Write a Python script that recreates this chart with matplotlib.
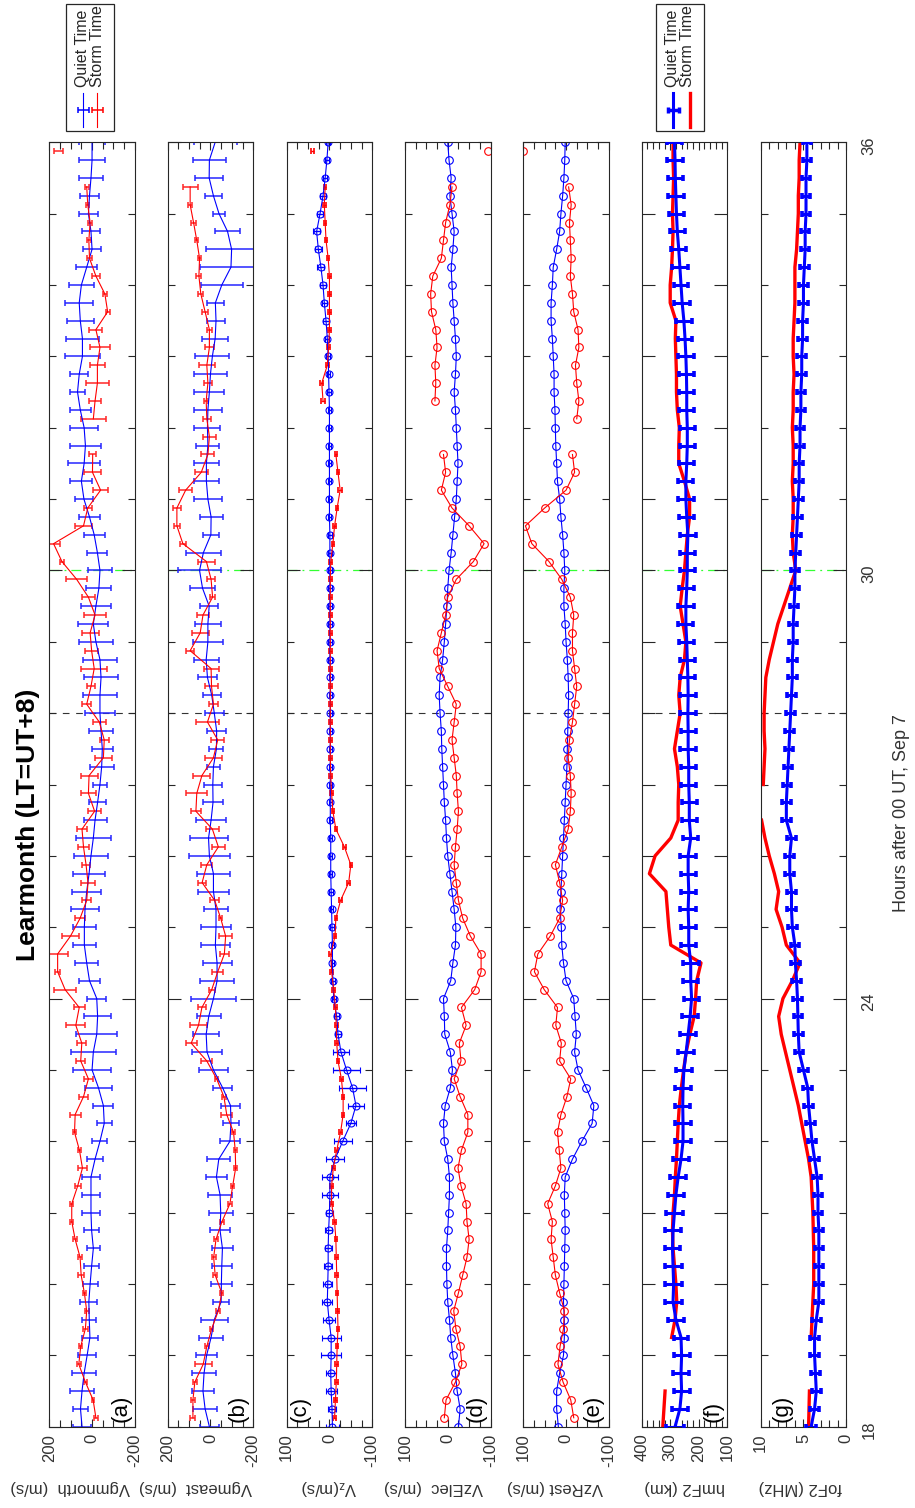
import numpy as np
import matplotlib
matplotlib.use("Agg")
import matplotlib.pyplot as plt
from matplotlib.ticker import MultipleLocator, FixedLocator
from matplotlib.patches import Rectangle

plt.rcParams['font.family'] = ['Liberation Sans', 'DejaVu Sans']
plt.rcParams['mathtext.fontset'] = 'custom'
plt.rcParams['mathtext.rm'] = 'Liberation Sans'
plt.rcParams['mathtext.it'] = 'Liberation Sans'
plt.rcParams['axes.unicode_minus'] = False

# time grids (hours after 00 UT, Sep 7)
t_quiet = np.arange(18, 36.001, 0.25)
t_storm = np.arange(18.125, 35.9, 0.25)
nan = np.nan

# (a) Vgmnorth
a_quiet = [47, 54, 47, 37, 23, 10, 13, 15, 9, 2,
           -6, 2, 5, 5, 5, -14, -37, -57, -53, -30,
           0, -6, -22, -26, -22, 12, 25, 36, 36, 33,
           25, 14, 5, -6, -14, -26, -37, -45, -48, -42,
           -37, -37, -42, -37, -18, -6, -18, -32, -37, -25,
           -10, 12, 38, 50, 37, 31, 37, 55, 68, 60,
           45, 45, 55, 60, 50, 25, 0, 5, 17, 12,
           5, 0, 0]
a_quiet_err = [44, 37, 58, 57, 43, 36, 33, 40, 35, 36,
               29, 35, 40, 40, 43, 37, 35, 35, 47, 63,
               89, 105, 97, 64, 45, 50, 54, 55, 55, 66,
               67, 75, 81, 82, 54, 39, 31, 56, 50, 56,
               71, 81, 81, 81, 79, 70, 70, 58, 54, 47,
               50, 50, 44, 52, 74, 72, 67, 49, 36, 41,
               80, 78, 64, 66, 60, 50, 41, 43, 46, 44,
               58, 62, 60]
a_storm = [-18, -5, 31, 62, 53, 31, 25, 36, 51, 56,
           79, 95, 95, 67, 45, 59, 82, 79, 40, 17,
           53, 48, 76, 60, 126, 161, 161, 101, 56, 25,
           19, 28, 40, 47, -12, 17, 14, -53, -57, -34,
           25, 5, -10, 2, 9, -14, 17, 72, 141, 180,
           40, 20, -40, -2, -3, nan, -6, -14, -25, -25,
           -37, -18, -73, -60, -18, 12, 15, 9, 20, 25,
           nan, 157]
a_storm_err = [8, 6, 8, 10, 8, 12, 10, 8, 15, 10,
               8, 8, 8, 15, 20, 8, 8, 25, 20, 22,
               22, 22, 45, 25, 50, 12, 50, 40, 25, 20,
               35, 20, 25, 25, 30, 35, 40, 40, 20, 30,
               20, 20, 60, 30, 40, 50, 30, 50, 10, 30,
               40, 20, 35, 40, 15, nan, 60, 30, 55, 35,
               45, 30, 10, 10, 20, 10, 10, 10, 8, 10,
               nan, 20]

# (b) Vgmeast
b_quiet = [5, 25, 35, 30, 18, -3, -18, -50, -51, -53,
           -56, -45, -48, -45, -28, -39, -91, -96, -94, -57,
           -14, 16, 20, 8, -14, -31, -31, -23, -26, -26,
           -14, -14, 5, 9, -3, -12, -11, -14, -28, -29,
           -18, -6, 14, 20, 12, 12, 6, 37, 51, 33,
           -2, -3, 12, 19, 19, 12, 14, 12, 5, 0,
           -9, -22, -26, -23, -53, -96, -99, -80, -40, -14,
           6, 5, -22]
b_quiet_err = [44, 56, 52, 54, 48, 58, 64, 39, 48, 47,
               51, 47, 57, 58, 48, 53, 47, 39, 43, 43,
               66, 72, 62, 56, 105, 79, 68, 68, 72, 57,
               74, 78, 96, 89, 70, 48, 41, 31, 33, 43,
               44, 42, 44, 58, 70, 60, 43, 60, 99, 81,
               37, 54, 66, 57, 58, 54, 61, 66, 70, 76,
               80, 62, 44, 40, 97, 145, 122, 57, 27, 39,
               65, 78, 100]
b_storm = [82, 82, 73, 34, 17, -6, -37, -53, -22, -15,
           -26, -54, -91, -104, -118, -116, -108, -76, -63, -29,
           17, 90, 56, 40, -6, -34, -65, -71, -48, -20,
           39, 17, -37, -9, 68, 64, 40, -14, -34, 14,
           -14, -5, -3, 95, 48, 35, -10, -3, 19, 129,
           157, 157, 116, 43, 12, 5, 17, 20, 12, 17,
           5, 5, 25, 45, 54, 51, 64, 79, 95, 95,
           nan, nan]
b_storm_err = [12, 10, 8, 40, 8, 8, 10, 8, 8, 10,
               8, 10, 10, 8, 8, 8, 8, 25, 10, 8,
               25, 25, 40, 20, 15, 25, 20, 30, 8, 20,
               20, 25, 30, 30, 25, 50, 40, 40, 30, 55,
               20, 30, 35, 20, 40, 30, 10, 20, 38, 15,
               15, 18, 30, 30, 30, 30, 20, 8, 20, 38,
               20, 12, 15, 12, 12, 8, 8, 10, 8, 35,
               nan, nan]

# (c) Vz
c_quiet = [-7, -6, -4, -3, -4, -4, 1, 5, 4, 3,
           3, 2, 0, -1, -1, -13, -31, -50, -62, -54,
           -40, -27, -20, -17, -10, -8, -7, -7, -6, -5,
           -4, -3, -3, -3, -2, -2, -2, -2, -2, -2,
           -2, -2, -2, -1, -1, -1, -1, -1, -1, -1,
           -1, 0, 0, 0, 0, 0, 0, 0, 1, 2,
           3, 5, 8, 12, 15, 20, 26, 30, 22, 15,
           10, 6, 3]
c_quiet_err = [16, 10, 13, 12, 24, 22, 15, 12, 10, 10,
               8, 8, 8, 19, 19, 22, 21, 11, 19, 32,
               32, 19, 8, 6, 5, 5, 4, 4, 4, 4,
               4, 4, 4, 4, 4, 4, 4, 4, 4, 4,
               4, 4, 4, 4, 4, 4, 4, 4, 4, 4,
               4, 4, 4, 4, 4, 4, 4, 4, 4, 4,
               5, 5, 6, 6, 7, 8, 8, 8, 8, 6,
               5, 5, 5]
c_storm = [-12, -14, -16, -17, -18, -20, -19, -18, -17, -16,
           -15, -12, -5, -5, -9, -17, -26, -32, -32, -28,
           -20, -17, -16, -14, -10, -5, -3, -13, -15, -26,
           -45, -50, -35, -15, -8, -5, -3, -2, -2, -2,
           -2, -2, -2, -2, -2, -2, -2, -2, -3, -8,
           -12, -18, -25, -20, -15, nan, nan, 15, 18, 5,
           2, 0, 0, 0, 0, 3, 8, 10, 12, 10,
           nan, 40]
c_storm_err = [3, 3, 3, 3, 3, 3, 3, 3, 3, 3,
               3, 3, 3, 3, 3, 3, 3, 3, 3, 3,
               3, 3, 3, 3, 3, 3, 3, 3, 3, 3,
               3, 3, 3, 3, 3, 3, 3, 3, 3, 3,
               3, 3, 3, 3, 3, 3, 3, 3, 3, 3,
               3, 3, 4, 3, 3, nan, nan, 4, 4, 3,
               3, 3, 3, 3, 3, 3, 3, 3, 3, 3,
               nan, 4]

# (d) VzElec
d_quiet = [-25, -29, -22, -18, -12, -7, -4, 0, 2, 3,
           3, 0, -2, -4, -4, 0, 8, 10, 6, -6,
           -11, -6, 7, 8, 10, -7, -12, -18, -19, -15,
           -10, -5, 0, 3, 5, 8, 10, 12, 14, 15,
           18, 20, 18, 12, 8, 5, 2, 0, -3, -8,
           -12, -16, -20, -22, -24, -22, -20, -18, -15, -18,
           -20, -18, -15, -12, -10, -8, -12, -15, -10, -5,
           -8, -3, 0]
d_storm = [8, 4, -18, -33, -29, -19, -14, -25, -35, -45,
           -50, -45, -43, -31, -24, -32, -47, -47, -29, -15,
           -31, -27, -43, -32, -63, -78, -78, -53, -35, -25,
           -20, -15, -18, -22, -25, -22, -20, -15, -10, -15,
           -20, 0, 20, 25, 15, 5, 0, -20, -60, -85,
           -50, -10, 15, 5, 10, nan, nan, 30, 28, 30,
           25, 28, 38, 40, 35, 15, 10, 5, -5, -10,
           nan, -93]

# (e) VzRest
e_quiet = [18, 22, 22, 15, 6, 4, 4, 6, 5, 4,
           3, 2, 3, 4, 2, -15, -37, -61, -65, -47,
           -28, -20, -24, -21, -18, 0, 6, 10, 11, 14,
           12, 10, 8, 6, 4, 2, 0, -2, -3, -4,
           -5, -6, -5, -3, 0, 2, 5, 5, 3, 5,
           8, 12, 15, 20, 22, 24, 25, 26, 28, 28,
           30, 32, 35, 35, 32, 30, 22, 15, 12, 8,
           5, 3, 2]
e_storm = [-18, -11, 7, 19, 14, 6, 4, 15, 25, 30,
           35, 32, 43, 25, 12, 16, 20, 12, -2, -11,
           15, 11, 24, 20, 51, 74, 66, 37, 15, 8,
           15, 25, 10, -5, -10, -12, -10, -5, -8, -15,
           -20, -25, -20, -15, -15, -18, -10, 10, 40, 80,
           95, 50, 0, -20, -15, nan, -25, -30, -25, -22,
           -30, -28, -18, -15, -10, -12, -10, -8, -12, -6,
           nan, 100]

# (f) hmF2
f_quiet = [283, 266, 260, 262, 260, 262, 280, 290, 288, 290,
           292, 290, 285, 280, 272, 262, 255, 255, 256, 255,
           252, 244, 237, 230, 225, 228, 228, 235, 235, 237,
           235, 237, 237, 228, 233, 233, 235, 235, 237, 237,
           238, 237, 238, 240, 242, 245, 245, 242, 240, 240,
           238, 242, 245, 245, 242, 240, 240, 242, 242, 243,
           245, 248, 252, 258, 262, 266, 270, 275, 278, 280,
           282, 283, 285]
f_quiet_err = [30, 28, 28, 27, 28, 26, 28, 30, 29, 30,
               28, 29, 30, 28, 27, 28, 29, 28, 27, 28,
               28, 29, 28, 27, 26, 27, 28, 27, 26, 27,
               27, 26, 27, 27, 26, 27, 27, 26, 27, 26,
               27, 27, 26, 27, 27, 26, 27, 27, 26, 27,
               27, 26, 27, 26, 27, 27, 26, 27, 27, 26,
               27, 26, 27, 27, 26, 27, 26, 27, 26, 27,
               26, 27, 27]
f_storm = [326, 322, 318, nan, nan, 295, 283, 277, 280, 285,
           290, 292, 290, 285, 282, 278, 275, 272, 268, 261,
           253, 244, 231, 216, 211, 207, 192, 298, 305, 310,
           315, 373, 353, 298, 272, 272, 270, 275, 285, 275,
           265, 270, 265, 250, 245, 255, 265, 258, 250, 245,
           240, 232, 232, 250, 270, 270, 268, 275, 278, 278,
           280, 282, 280, 300, 300, 295, 292, 290, 292, 290,
           288, 290, 290]

# (g) foF2
g_quiet = [4.1, 3.7, 3.5, 3.6, 3.7, 3.7, 3.5, 3.2, 3.2, 3.2,
           3.2, 3.2, 3.3, 3.3, 3.4, 3.7, 4.0, 4.2, 4.4, 4.5,
           5.0, 5.5, 5.6, 5.65, 5.7, 5.8, 5.95, 6.0, 6.3, 6.4,
           6.4, 6.6, 6.6, 6.4, 7.0, 7.0, 6.9, 6.8, 6.7, 6.6,
           6.5, 6.4, 6.3, 6.3, 6.2, 6.2, 6.1, 6.0, 6.0, 5.9,
           5.8, 5.7, 5.6, 5.5, 5.5, 5.4, 5.4, 5.3, 5.3, 5.2,
           5.2, 5.1, 5.1, 5.0, 5.0, 4.9, 4.8, 4.8, 4.7, 4.7,
           4.7, 4.6, 4.6]
g_quiet_err = [0.6, 0.5, 0.5, 0.5, 0.5, 0.5, 0.5, 0.5, 0.5, 0.5,
               0.5, 0.5, 0.5, 0.5, 0.5, 0.5, 0.5, 0.5, 0.5, 0.5,
               0.5, 0.5, 0.5, 0.5, 0.5, 0.5, 0.5, 0.5, 0.5, 0.5,
               0.5, 0.5, 0.5, 0.5, 0.5, 0.5, 0.5, 0.5, 0.5, 0.5,
               0.5, 0.5, 0.5, 0.5, 0.5, 0.5, 0.5, 0.5, 0.5, 0.5,
               0.5, 0.5, 0.5, 0.5, 0.5, 0.5, 0.5, 0.5, 0.5, 0.5,
               0.5, 0.5, 0.5, 0.5, 0.5, 0.5, 0.5, 0.5, 0.5, 0.5,
               0.5, 0.5, 0.5]
g_storm = [4.4, 4.35, 4.3, nan, nan, 4.1, 4.0, 3.9, 3.8, 3.8,
           3.8, 3.85, 3.9, 4.0, 4.1, 4.4, 4.8, 5.2, 5.6, 6.1,
           6.6, 7.1, 7.6, 7.9, 7.4, 6.3, 5.4, 7.0, 7.5, 8.2,
           7.9, 8.4, 9.0, 9.5, 9.9, nan, 9.7, 9.6, 9.5, 9.6,
           9.6, 9.5, 9.4, 9.0, 8.5, 8.0, 7.3, 6.6, 5.9, 6.2,
           6.3, 6.2, 6.2, 6.3, 6.2, 6.2, 6.3, 6.2, 6.2, 6.1,
           6.2, 6.2, 6.1, 6.0, 6.0, 6.0, 5.8, 5.7, 5.6, 5.6,
           5.5, 5.5, 5.4]

ylabels = ['Vgmnorth  (m/s)', 'Vgmeast  (m/s)', 'V$_z$(m/s)', 'VzElec  (m/s)',
           'VzRest (m/s)', 'hmF2 (km)', 'foF2 (MHz)']
tags = ['(a)', '(b)', '(c)', '(d)', '(e)', '(f)', '(g)']

W, H = 915, 1508
fig = plt.figure(figsize=(W / 100, H / 100), dpi=100)

lefts = [49.3, 167.7, 286.7, 405.0, 523.3, 641.7, 760.7]
pw = 85.5
top, bot = 142.3, 1426.7
limits = [(200, -200), (200, -200), (100, -100), (100, -100), (100, -100), (400, 100), (10, 0)]
majors = [[200, 0, -200], [200, 0, -200], [100, 0, -100], [100, 0, -100], [100, 0, -100],
          [400, 300, 200, 100], [10, 5, 0]]
minors = [50, 50, 25, 25, 25, 20, 1]
label_x = [70, 195, 329, 433, 555, 685, 800]
tag_pos = [(0.965, 'right'), (0.945, 'right'), (0.04, 'left'), (0.955, 'right'),
           (0.945, 'right'), (0.963, 'right'), (0.13, 'left')]

axc = '#262626'
blue, red = (0, 0, 1), (1, 0, 0)
axes = []
for i in range(7):
    ax = fig.add_axes([lefts[i] / W, 1 - bot / H, pw / W, (bot - top) / H])
    axes.append(ax)
    ax.set_xlim(*limits[i])
    ax.set_ylim(18, 36)
    ax.xaxis.set_major_locator(FixedLocator(majors[i]))
    ax.xaxis.set_minor_locator(MultipleLocator(minors[i]))
    ax.yaxis.set_major_locator(FixedLocator([18, 24, 30, 36]))
    ax.yaxis.set_minor_locator(MultipleLocator(1))
    ax.tick_params(axis='both', which='both', direction='in', top=True, right=True,
                   color=axc, labelcolor='#333333', labelsize=12)
    ax.tick_params(axis='y', which='major', length=9.5, width=0.8)
    ax.tick_params(axis='y', which='minor', length=(9.5 if i == 5 else 5), width=0.8)
    ax.tick_params(axis='x', which='major', length=5.5, width=0.8, labelrotation=90, pad=5)
    ax.tick_params(axis='x', which='minor', length=5, width=0.8)
    ax.tick_params(axis='y', labelleft=False, labelright=(i == 6), labelrotation=90, pad=11)
    for sp in ax.spines.values():
        sp.set_color(axc)
        sp.set_linewidth(0.8)
    ax.axhline(28, color='#333333', ls=(0, (6, 6)), lw=0.8, zorder=0.5)
    ax.axhline(30, color=(0.2, 1, 0.2), ls=(0, (8, 4, 1.5, 4)), lw=0.9, zorder=0.5)
    fx, ha = tag_pos[i]
    ax.text(fx, 0.004, tags[i], transform=ax.transAxes, rotation=90, ha=ha, va='bottom',
            fontsize=16, color='k')
    fig.text(label_x[i] / W, 1 - 1488 / H, ylabels[i], rotation=180, ha='center', va='center',
             fontsize=12, color='#333333')

# Panels (a), (b): thin lines with error bars
for ax, q, qe, s, se in [(axes[0], a_quiet, a_quiet_err, a_storm, a_storm_err),
                         (axes[1], b_quiet, b_quiet_err, b_storm, b_storm_err)]:
    ax.errorbar(q, t_quiet, xerr=qe, color=blue, lw=0.8, elinewidth=1.1, capsize=2.2,
                capthick=1.1, ecolor=(0.15, 0.15, 1))
    ax.errorbar(s, t_storm, xerr=se, color=red, lw=0.8, elinewidth=1.1, capsize=2.2,
                capthick=1.1, ecolor=(1, 0.15, 0.15))

# Panel (c): circles with error bars
axes[2].errorbar(c_quiet, t_quiet, xerr=c_quiet_err, color=blue, lw=0.8, elinewidth=1.0,
                 capsize=2.2, capthick=1.0, marker='o', ms=5, mfc='none', mec=blue, mew=0.8)
axes[2].errorbar(c_storm, t_storm, xerr=c_storm_err, color=red, lw=0.8, elinewidth=1.0,
                 capsize=2.2, capthick=1.2)

# Panels (d), (e): circles
for ax, q, s in [(axes[3], d_quiet, d_storm), (axes[4], e_quiet, e_storm)]:
    ax.plot(q, t_quiet, '-o', color=blue, lw=0.8, ms=5.5, mfc='none', mew=0.8)
    ax.plot(s, t_storm, '-o', color=red, lw=0.8, ms=5.5, mfc='none', mew=0.8)

# Panels (f), (g): thick lines
for ax, q, qe, s in [(axes[5], f_quiet, f_quiet_err, f_storm),
                     (axes[6], g_quiet, g_quiet_err, g_storm)]:
    ax.errorbar(q, t_quiet, xerr=qe, color=blue, lw=2.2, elinewidth=2.2, capsize=2,
                capthick=2.6, zorder=3)
    ax.plot(s, t_quiet, color=red, lw=2.4, zorder=2)

# title and x label
fig.text(28 / W, 1 - 825 / H, 'Learmonth (LT=UT+8)', rotation=90, ha='center', va='center',
         fontsize=19, fontweight='bold')
fig.text(902 / W, 1 - 813 / H, 'Hours after 00 UT, Sep 7', rotation=90, ha='center',
         va='center', fontsize=13, color='#333333')

# legends (drawn in pixel coordinates on an overlay)
ov = fig.add_axes([0, 0, 1, 1])
ov.set_xlim(0, W)
ov.set_ylim(H, 0)
ov.axis('off')
for x0, thick in [(65.7, False), (655.7, True)]:
    ov.add_patch(Rectangle((x0, 4), 48.6, 126.7, fill=False, ec='#262626', lw=0.9))
    lw_q = 2.2 if thick else 0.8
    ov.plot([x0 + 17.5, x0 + 17.5], [93, 127], color=blue, lw=lw_q)
    ov.errorbar([x0 + 17.5], [110], xerr=[5.5], color=blue, lw=0, elinewidth=lw_q + 0.3,
                capsize=2.2, capthick=lw_q + 0.3)
    if thick:
        ov.plot([x0 + 34, x0 + 34], [93, 127], color=red, lw=2.4)
    else:
        ov.plot([x0 + 31.5, x0 + 31.5], [93, 127], color=red, lw=0.8)
        ov.errorbar([x0 + 31.5], [110], xerr=[5.5], color=red, lw=0, elinewidth=1.1,
                    capsize=2.2, capthick=1.1)
    ov.text(x0 + 16.5, 87, 'Quiet Time', rotation=90, ha='center', va='bottom',
            fontsize=11.5, color='#262626')
    ov.text(x0 + 32.0, 87, 'Storm Time', rotation=90, ha='center', va='bottom',
            fontsize=11.5, color='#262626')

fig.savefig('out.png', dpi=100)
